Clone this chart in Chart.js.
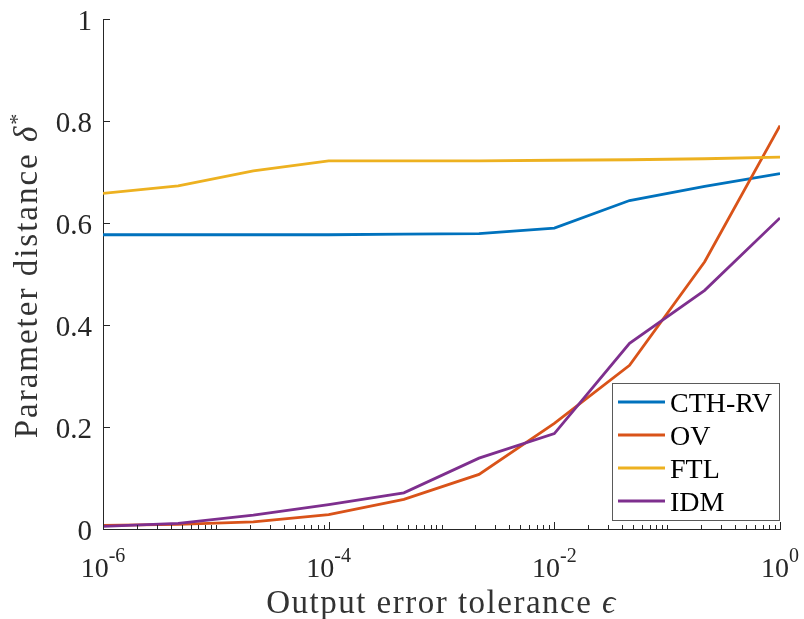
<!DOCTYPE html>
<html>
<head>
<meta charset="utf-8">
<script src="https://cdn.jsdelivr.net/npm/chart.js@4.4.1/dist/chart.umd.min.js"></script>
<style>
  html, body { margin: 0; padding: 0; background: #ffffff; }
  #wrap { width: 804px; height: 619px; }
</style>
</head>
<body>
<div id="wrap"><canvas id="chart" width="804" height="619"></canvas></div>
<script>
// Output error tolerance (log-spaced sweep, 1e-6 .. 1)
const epsilon = [1e-6, 4.64e-6, 2.15e-5, 1e-4, 4.64e-4, 2.15e-3, 1e-2, 4.64e-2, 2.15e-1, 1];

// Parameter distance for each car-following model
const cthRv = [0.577, 0.577, 0.577, 0.577, 0.578, 0.579, 0.590, 0.644, 0.672, 0.697];
const ov    = [0.007, 0.009, 0.014, 0.028, 0.058, 0.107, 0.207, 0.321, 0.524, 0.791];
const ftl   = [0.658, 0.673, 0.702, 0.722, 0.722, 0.722, 0.723, 0.724, 0.726, 0.729];
const idm   = [0.005, 0.011, 0.027, 0.048, 0.071, 0.139, 0.187, 0.364, 0.468, 0.610];

const seriesNames  = ['CTH-RV', 'OV', 'FTL', 'IDM'];
const seriesColors = ['#0072BD', '#D95319', '#EDB120', '#7E2F8E'];

const yTicks = [0, 0.2, 0.4, 0.6, 0.8, 1];
const yTickLabels = ['0', '0.2', '0.4', '0.6', '0.8', '1'];
const xMajorExponents = [-6, -4, -2, 0];
const xTickLabels = ['-6', '-4', '-2', '0'];

// Axis titles: plain words followed by an italic math symbol
const xTitleText = 'Output error tolerance ';
const xTitleSym = '\u03F5';
const yTitleText = 'Parameter distance ';
const yTitleSym = '\u03B4';
const yTitleSup = '*';

const INK = '#262626';
const SERIF = "'Liberation Serif', 'Times New Roman', 'DejaVu Serif', serif";

const allSeries = [cthRv, ov, ftl, idm];
const datasets = allSeries.map((vals, i) => ({
  label: seriesNames[i],
  data: epsilon.map((e, j) => ({ x: e, y: vals[j] })),
  borderColor: seriesColors[i],
  backgroundColor: seriesColors[i],
  borderWidth: 2.8,
  pointRadius: 0,
  tension: 0,
  fill: false,
  order: allSeries.length - i
}));

// Axis decoration: inward ticks, TeX-like labels, titles and a boxed legend
const axisDecor = {
  id: 'axisDecor',
  afterDraw(chart) {
    const ctx = chart.ctx;
    const xs = chart.scales.x, ys = chart.scales.y;
    const area = chart.chartArea;
    ctx.save();
    ctx.strokeStyle = INK;
    ctx.fillStyle = INK;
    ctx.lineWidth = 1;

    // y ticks (pointing inside)
    yTicks.forEach(v => {
      const py = Math.round(ys.getPixelForValue(v)) + 0.5;
      ctx.beginPath();
      ctx.moveTo(area.left, py);
      ctx.lineTo(area.left + 7, py);
      ctx.stroke();
    });

    // x ticks: majors at labelled decades, minors elsewhere
    for (let n = -6; n <= 0; n++) {
      const major = xMajorExponents.includes(n);
      const px = Math.round(xs.getPixelForValue(Math.pow(10, n))) + 0.5;
      ctx.beginPath();
      ctx.moveTo(px, area.bottom);
      ctx.lineTo(px, area.bottom - (major ? 7 : 4));
      ctx.stroke();
      if (n < 0) {
        for (let k = 2; k <= 9; k++) {
          const mx = Math.round(xs.getPixelForValue(k * Math.pow(10, n))) + 0.5;
          ctx.beginPath();
          ctx.moveTo(mx, area.bottom);
          ctx.lineTo(mx, area.bottom - 4);
          ctx.stroke();
        }
      }
    }

    // y tick labels
    ctx.font = '29px ' + SERIF;
    ctx.textAlign = 'right';
    ctx.textBaseline = 'alphabetic';
    yTicks.forEach((v, i) => {
      const py = ys.getPixelForValue(v);
      ctx.fillText(yTickLabels[i], area.left - 11, py + 10.5);
    });

    // x tick labels: 10 with superscript exponent
    xMajorExponents.forEach((n, i) => {
      const px = xs.getPixelForValue(Math.pow(10, n));
      ctx.font = '28px ' + SERIF;
      const wBase = ctx.measureText('10').width;
      ctx.font = '20px ' + SERIF;
      const wSup = ctx.measureText(xTickLabels[i]).width;
      const x0 = px - (wBase + wSup) / 2;
      ctx.textAlign = 'left';
      ctx.font = '28px ' + SERIF;
      ctx.fillText('10', x0, 576.5);
      ctx.font = '20px ' + SERIF;
      ctx.fillText(xTickLabels[i], x0 + wBase, 562);
    });

    const regular = '33px ' + SERIF;
    const italic = 'italic 33px ' + SERIF;

    // x axis title
    ctx.fillStyle = '#333333';
    ctx.letterSpacing = '1.5px';
    ctx.textAlign = 'left';
    ctx.font = regular;
    const wx1 = ctx.measureText(xTitleText).width;
    ctx.font = italic;
    const wx2 = ctx.measureText(xTitleSym).width;
    const xStart = (area.left + area.right) / 2 - (wx1 + wx2) / 2;
    ctx.font = regular;
    ctx.fillText(xTitleText, xStart, 613);
    ctx.font = italic;
    ctx.fillText(xTitleSym, xStart + wx1, 613);

    // y axis title (rotated), with italic delta and superscript star
    ctx.save();
    ctx.translate(37, (area.top + area.bottom) / 2 + 1);
    ctx.rotate(-Math.PI / 2);
    ctx.letterSpacing = '2px';
    ctx.font = regular;
    const wy1 = ctx.measureText(yTitleText).width;
    ctx.font = italic;
    const wy2 = ctx.measureText(yTitleSym).width;
    ctx.font = '22px ' + SERIF;
    const wy3 = ctx.measureText(yTitleSup).width;
    const start = -(wy1 + wy2 + wy3) / 2;
    ctx.font = regular;
    ctx.fillText(yTitleText, start, 0);
    ctx.font = italic;
    ctx.fillText(yTitleSym, start + wy1, 0);
    ctx.font = '22px ' + SERIF;
    ctx.fillText(yTitleSup, start + wy1 + wy2, -13);
    ctx.restore();
    ctx.letterSpacing = '0px';

    // legend box in the lower right corner
    const lx = 612.5, ly = 383.5, lw = 167, lh = 137;
    ctx.fillStyle = '#ffffff';
    ctx.fillRect(lx, ly, lw, lh);
    ctx.strokeStyle = '#5a5a5a';
    ctx.lineWidth = 1;
    ctx.strokeRect(lx, ly, lw, lh);
    ctx.font = '28px ' + SERIF;
    ctx.textAlign = 'left';
    chart.data.datasets.forEach((ds, i) => {
      const rowY = 402 + i * 33;
      ctx.strokeStyle = ds.borderColor;
      ctx.lineWidth = 2.8;
      ctx.beginPath();
      ctx.moveTo(618, rowY);
      ctx.lineTo(665, rowY);
      ctx.stroke();
      ctx.fillStyle = '#000000';
      ctx.fillText(ds.label, 670, rowY + 10);
    });

    ctx.restore();
  }
};

new Chart(document.getElementById('chart'), {
  type: 'line',
  data: { datasets },
  options: {
    responsive: false,
    animation: false,
    devicePixelRatio: 1,
    layout: { padding: { left: 103, right: 24, top: 19, bottom: 90 } },
    plugins: { legend: { display: false }, tooltip: { enabled: false } },
    scales: {
      x: {
        type: 'logarithmic',
        min: 1e-6,
        max: 1,
        grid: { display: false, drawTicks: false },
        ticks: { display: false },
        border: { display: true, color: INK, width: 1 }
      },
      y: {
        type: 'linear',
        min: 0,
        max: 1,
        grid: { display: false, drawTicks: false },
        ticks: { display: false },
        border: { display: true, color: INK, width: 1 }
      }
    }
  },
  plugins: [axisDecor]
});
</script>
</body>
</html>
